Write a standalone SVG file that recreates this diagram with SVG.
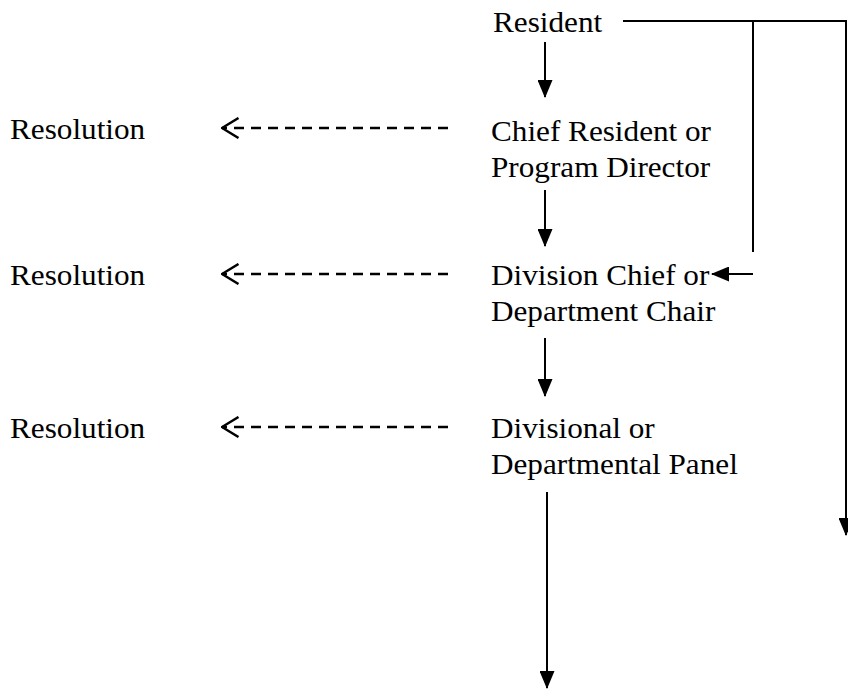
<svg xmlns="http://www.w3.org/2000/svg" width="848" height="690" viewBox="0 0 848 690">
<style>
text{font-family:"Liberation Serif","Times New Roman",serif;font-size:30px;fill:#000}
.ln{stroke:#000;stroke-width:2;fill:none}
.dash{stroke:#000;stroke-width:2.5;fill:none;stroke-dasharray:10 7}
.head{fill:#000;stroke:none}
.chev{fill:none;stroke:#000;stroke-width:2.5;stroke-dasharray:none}
</style>
<defs>
<marker id="arr" markerUnits="userSpaceOnUse" viewBox="0 0 18 15" markerWidth="18" markerHeight="15" refX="17" refY="7.5" orient="auto">
<path class="head" d="M0,0 L18,7.5 L0,15 z"/>
</marker>
<marker id="open" markerUnits="userSpaceOnUse" viewBox="0 0 19 22" markerWidth="19" markerHeight="22" refX="17.5" refY="11" orient="auto">
<path class="chev" d="M1,1 L17.5,11 L1,21"/>
</marker>
</defs>
<rect width="848" height="690" fill="#fff"/>
<g id="connectors">
<line class="ln" x1="545" y1="42" x2="545" y2="97" marker-end="url(#arr)"/>
<line class="ln" x1="545" y1="190" x2="545" y2="246" marker-end="url(#arr)"/>
<line class="ln" x1="545" y1="338" x2="545" y2="396" marker-end="url(#arr)"/>
<line class="ln" x1="547" y1="492" x2="547" y2="688" marker-end="url(#arr)"/>
<polyline class="ln" points="623,21 846,21 846,535" marker-end="url(#arr)"/>
<line class="ln" x1="753" y1="21" x2="753" y2="252"/>
<line class="ln" x1="753" y1="274" x2="712" y2="274" marker-end="url(#arr)"/>
<line class="dash" x1="448" y1="128" x2="222" y2="128" marker-end="url(#open)"/>
<line class="dash" x1="448" y1="274" x2="222" y2="274" marker-end="url(#open)"/>
<line class="dash" x1="448" y1="427" x2="222" y2="427" marker-end="url(#open)"/>
</g>
<g id="resident"><text transform="translate(493,32) scale(1.04,1)">Resident</text></g>
<g id="chief-resident"><text transform="translate(491,141) scale(1.04,1)"><tspan x="0" y="0">Chief Resident or</tspan><tspan x="0" y="36">Program Director</tspan></text></g>
<g id="division-chief"><text transform="translate(491,285) scale(1.04,1)"><tspan x="0" y="0">Division Chief or</tspan><tspan x="0" y="36">Department Chair</tspan></text></g>
<g id="panel"><text transform="translate(491,438) scale(1.04,1)"><tspan x="0" y="0">Divisional or</tspan><tspan x="0" y="36">Departmental Panel</tspan></text></g>
<g id="resolution-1"><text transform="translate(10,139) scale(1.04,1)">Resolution</text></g>
<g id="resolution-2"><text transform="translate(10,285) scale(1.04,1)">Resolution</text></g>
<g id="resolution-3"><text transform="translate(10,438) scale(1.04,1)">Resolution</text></g>
</svg>
